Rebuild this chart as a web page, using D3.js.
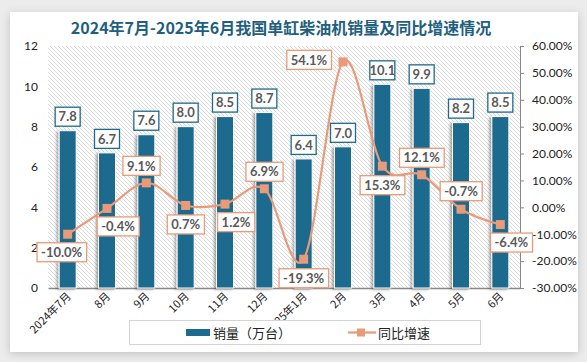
<!DOCTYPE html>
<html>
<head>
<meta charset="utf-8">
<script src="https://cdn.jsdelivr.net/npm/d3@7"></script>
<style>
  body { margin: 0; background: #ececec; }
  svg text { font-family: Lato, "Noto Sans CJK SC", sans-serif; }
</style>
</head>
<body>
<div id="chart"></div>
<script>
// data
const months = ["2024年7月", "8月", "9月", "10月", "11月", "12月", "2025年1月", "2月", "3月", "4月", "5月", "6月"]
const sales = [7.8, 6.7, 7.6, 8.0, 8.5, 8.7, 6.4, 7.0, 10.1, 9.9, 8.2, 8.5]
const growth = [-10.0, -0.4, 9.1, 0.7, 1.2, 6.9, -19.3, 54.1, 15.3, 12.1, -0.7, -6.4]
const leftTicks = [0, 2, 4, 6, 8, 10, 12]
const rightTicks = [-30, -20, -10, 0, 10, 20, 30, 40, 50, 60]
// where each growth label sits relative to its marker
const growthLabelSide = ["bl", "br", "al", "b", "br", "a", "b", "l", "b", "a", "ar", "br"]

const width = 587
const height = 362
const plot = { left: 48, right: 520, top: 46, bottom: 288 }
const barColor = "#1d6a8e"
const lineColor = "#e99a78"

const svg = d3.select("#chart")
  .append("svg")
  .attr("width", width)
  .attr("height", height)

const defs = svg.append("defs")

const hatch = defs.append("pattern")
  .attr("id", "hatch")
  .attr("patternUnits", "userSpaceOnUse")
  .attr("width", 4)
  .attr("height", 4)
hatch.append("rect").attr("width", 4).attr("height", 4).attr("fill", "#fff")
hatch.append("path")
  .attr("d", "M-1,-1 L5,5 M-1,3 L1,5 M3,-1 L5,1")
  .attr("stroke", "#d2d2d2")
  .attr("stroke-width", 0.8)

const shadow = defs.append("filter").attr("id", "shadow")
  .attr("x", "-30%").attr("y", "-30%").attr("width", "160%").attr("height", "160%")
shadow.append("feDropShadow")
  .attr("dx", -2).attr("dy", 1).attr("stdDeviation", 1.5)
  .attr("flood-color", "#000").attr("flood-opacity", 0.35)

const cardShadow = defs.append("filter").attr("id", "cardShadow")
  .attr("x", "-5%").attr("y", "-5%").attr("width", "110%").attr("height", "110%")
cardShadow.append("feDropShadow")
  .attr("dx", 0).attr("dy", 2).attr("stdDeviation", 4)
  .attr("flood-color", "#000").attr("flood-opacity", 0.18)

// white card
svg.append("rect")
  .attr("x", 10)
  .attr("y", 12)
  .attr("width", 568)
  .attr("height", 340)
  .attr("fill", "#fff")
  .attr("filter", "url(#cardShadow)")

svg.append("text")
  .attr("x", 281)
  .attr("y", 34)
  .attr("text-anchor", "middle")
  .style("font-family", "'Noto Sans CJK SC', sans-serif")
  .style("font-size", "16px")
  .style("font-weight", "bold")
  .style("fill", "#1f5f80")
  .text("2024年7月-2025年6月我国单缸柴油机销量及同比增速情况")

// scales
const x = d3.scaleBand()
  .domain(months)
  .range([plot.left, plot.right])

const yLeft = d3.scaleLinear()
  .domain([0, 12])
  .range([plot.bottom, plot.top])

const yRight = d3.scaleLinear()
  .domain([-30, 60])
  .range([plot.bottom, plot.top])

// hatched plot area
svg.append("rect")
  .attr("x", plot.left)
  .attr("y", plot.top)
  .attr("width", plot.right - plot.left)
  .attr("height", plot.bottom - plot.top)
  .attr("fill", "url(#hatch)")

// axes
const leftAxis = svg.append("g")
  .attr("transform", "translate(" + (plot.left - 6) + ",0)")
  .call(d3.axisLeft(yLeft).tickValues(leftTicks).tickSize(0).tickPadding(0))
leftAxis.select(".domain").remove()
leftAxis.selectAll("text")
  .style("font-size", "12px")
  .style("fill", "#222")
  .attr("x", -4)

const rightAxis = svg.append("g")
  .attr("transform", "translate(" + plot.right + ",0)")
  .call(d3.axisRight(yRight).tickValues(rightTicks).tickSize(4).tickPadding(8)
    .tickFormat(d => d.toFixed(2) + "%"))
rightAxis.select(".domain").attr("stroke", "#888")
rightAxis.selectAll(".tick line").attr("stroke", "#888")
rightAxis.selectAll("text")
  .style("font-size", "12px")
  .style("fill", "#222")

const bottomAxis = svg.append("g")
  .attr("transform", "translate(0," + plot.bottom + ")")
  .call(d3.axisBottom(x).tickSize(0).tickPadding(0))
bottomAxis.select(".domain").attr("stroke", "#888").attr("stroke-width", 1.5)
bottomAxis.selectAll("text")
  .style("font-size", "11px")
  .style("fill", "#222")
  .style("font-family", "'Noto Sans CJK SC', sans-serif")
  .attr("text-anchor", "end")
  .attr("dy", 0)
  .attr("transform", "translate(4,9) rotate(-45)")

// bars
const barW = 17
svg.selectAll(".bar")
  .data(sales)
  .enter().append("rect")
  .attr("class", "bar")
  .attr("x", (d, i) => x(months[i]) + x.bandwidth() / 2 - barW / 2)
  .attr("y", d => yLeft(d))
  .attr("width", barW)
  .attr("height", d => yLeft(0) - yLeft(d))
  .attr("fill", barColor)
  .attr("stroke", "#fff")
  .attr("stroke-width", 1)
  .attr("filter", "url(#shadow)")

// bar labels
const barLabels = svg.selectAll(".barLabel")
  .data(sales)
  .enter().append("g")
  .attr("class", "barLabel")
  .attr("transform", (d, i) => "translate(" + (x(months[i]) + x.bandwidth() / 2) + "," + (yLeft(d) - 14) + ")")
barLabels.append("rect")
  .attr("x", -12.5)
  .attr("y", -9.5)
  .attr("width", 25)
  .attr("height", 19)
  .attr("fill", "#fff")
  .attr("stroke", barColor)
  .attr("stroke-width", 1.3)
barLabels.append("text")
  .attr("text-anchor", "middle")
  .attr("dy", "0.36em")
  .style("font-size", "13px")
  .style("font-weight", "bold")
  .style("fill", "#595959")
  .text(d => d.toFixed(1))

// growth line
const line = d3.line()
  .x((d, i) => x(months[i]) + x.bandwidth() / 2)
  .y(d => yRight(d))
  .curve(d3.curveCardinal.tension(0))

svg.append("path")
  .datum(growth)
  .attr("fill", "none")
  .attr("stroke", lineColor)
  .attr("stroke-width", 2.2)
  .attr("d", line)

svg.selectAll(".marker")
  .data(growth)
  .enter().append("rect")
  .attr("class", "marker")
  .attr("x", (d, i) => x(months[i]) + x.bandwidth() / 2 - 4.5)
  .attr("y", d => yRight(d) - 4.5)
  .attr("width", 9)
  .attr("height", 9)
  .attr("fill", lineColor)

const sideOffset = {
  a: [0, -17], b: [0, 19], l: [-34, -2], r: [34, 0],
  al: [-5, -17], ar: [0, -18], bl: [-6, 18], br: [11, 18]
}
const growthLabels = svg.selectAll(".growthLabel")
  .data(growth)
  .enter().append("g")
  .attr("class", "growthLabel")
  .attr("transform", (d, i) => {
    const off = sideOffset[growthLabelSide[i]]
    return "translate(" + (x(months[i]) + x.bandwidth() / 2 + off[0]) + "," + (yRight(d) + off[1]) + ")"
  })
growthLabels.append("text")
  .attr("text-anchor", "middle")
  .attr("dy", "0.36em")
  .style("font-size", "13px")
  .style("font-weight", "bold")
  .style("fill", "#595959")
  .text(d => d.toFixed(1) + "%")
growthLabels.insert("rect", "text")
  .each(function() {
    const bb = this.parentNode.querySelector("text").getBBox()
    d3.select(this)
      .attr("x", bb.x - 4)
      .attr("y", -9.5)
      .attr("width", bb.width + 8)
      .attr("height", 19)
  })
  .attr("fill", "#fff")
  .attr("stroke", lineColor)
  .attr("stroke-width", 1.3)

// legend
svg.append("rect")
  .attr("x", 129.5)
  .attr("y", 320.5)
  .attr("width", 351)
  .attr("height", 24)
  .attr("fill", "#fff")
  .attr("stroke", "#d4d4d4")

svg.append("rect")
  .attr("x", 186)
  .attr("y", 329)
  .attr("width", 24)
  .attr("height", 7)
  .attr("fill", barColor)
svg.append("text")
  .attr("x", 213)
  .attr("y", 338)
  .style("font-family", "'Noto Sans CJK SC', sans-serif")
  .style("font-size", "13px")
  .style("fill", "#222")
  .text("销量（万台）")

svg.append("line")
  .attr("x1", 348)
  .attr("x2", 376)
  .attr("y1", 332.5)
  .attr("y2", 332.5)
  .attr("stroke", lineColor)
  .attr("stroke-width", 2.2)
svg.append("rect")
  .attr("x", 357)
  .attr("y", 328.5)
  .attr("width", 8)
  .attr("height", 8)
  .attr("fill", lineColor)
svg.append("text")
  .attr("x", 378)
  .attr("y", 338)
  .style("font-family", "'Noto Sans CJK SC', sans-serif")
  .style("font-size", "13px")
  .style("fill", "#222")
  .text("同比增速")
</script>
</body>
</html>
